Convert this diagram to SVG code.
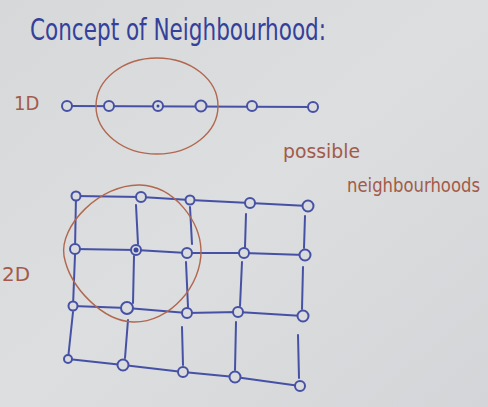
<svg xmlns="http://www.w3.org/2000/svg" width="488" height="407" viewBox="0 0 488 407">
<defs>
<linearGradient id="bg" x1="0" y1="0" x2="1" y2="1">
<stop offset="0" stop-color="#d6d8da"/>
<stop offset="0.5" stop-color="#dcdedf"/>
<stop offset="1" stop-color="#d3d5d8"/>
</linearGradient>
</defs>
<style>
.ln{stroke:#4651a6;stroke-width:2;fill:none;stroke-linecap:round}
.nd{stroke:#4651a6;stroke-width:2;fill:#d9dbdd}
.dot{fill:#3a46a0}
.red{stroke:#b2674f;stroke-width:1.4;fill:none}
.tb{font-family:"DejaVu Sans Condensed","Liberation Sans",sans-serif;fill:#34409a;font-weight:300}
.tr{font-family:"DejaVu Sans Condensed","Liberation Sans",sans-serif;fill:#a35a4a;font-weight:300}
</style>
<rect width="488" height="407" fill="url(#bg)"/>
<g id="title"><text class="tb" x="30" y="40" font-size="30" textLength="296" lengthAdjust="spacingAndGlyphs">Concept of Neighbourhood:</text></g>
<g id="label-1d"><text class="tr" x="14" y="110" font-size="20">1D</text></g>
<g id="label-2d"><text class="tr" x="2" y="281" font-size="20" textLength="28" lengthAdjust="spacingAndGlyphs">2D</text></g>
<g id="label-possible"><text class="tr" x="283" y="158" font-size="19" textLength="77" lengthAdjust="spacingAndGlyphs">possible</text>
<text class="tr" x="347" y="192" font-size="19" textLength="133" lengthAdjust="spacingAndGlyphs">neighbourhoods</text></g>
<g id="connectors">
<path class="ln" d="M67 106 L314 107"/>
<path class="ln" d="M76 196 L141 197 L190 200 L250 203 L308 206"/>
<path class="ln" d="M75 249 L136 250 L187 253 L244 253 L305 255"/>
<path class="ln" d="M73 306 L127 308 L187 313 L238 312 L303 316"/>
<path class="ln" d="M68 359 L123 365 L183 372 L235 377 L300 386"/>
<path class="ln" d="M76 196 L75 249 M75 255 L73 306 M73 312 L68 359"/>
<path class="ln" d="M136 205 L138 244 M134 256 L133 303 M128 320 L125 358"/>
<path class="ln" d="M190 207 L192 244 M186 262 L188 307 M182 327 L183 365"/>
<path class="ln" d="M246 214 L245 247 M242 262 L240 306 M236 322 L235 370"/>
<path class="ln" d="M305 216 L304 248 M303 267 L302 309 M298 335 L299 378"/>
</g>
<g id="ring-1d"><ellipse class="red" cx="157" cy="106" rx="61" ry="48"/></g>
<g id="ring-2d"><path class="red" d="M140 185 C175 186 200 222 201 250 C202 285 170 323 133 322 C103 321 70 288 64 256 C59 226 100 184 140 185 Z"/></g>
<g id="nodes-1d">
<circle class="nd" cx="67" cy="106" r="5"/>
<circle class="nd" cx="109" cy="106" r="5"/>
<circle class="nd" cx="158" cy="106" r="5"/><circle class="dot" cx="158" cy="106" r="1.5"/>
<circle class="nd" cx="201" cy="106" r="5.5"/>
<circle class="nd" cx="252" cy="106" r="5"/>
<circle class="nd" cx="313" cy="107" r="5"/>
</g>
<g id="nodes-2d">
<circle class="nd" cx="76" cy="196" r="4.5"/>
<circle class="nd" cx="141" cy="197" r="5"/>
<circle class="nd" cx="190" cy="200" r="4.5"/>
<circle class="nd" cx="250" cy="203" r="5"/>
<circle class="nd" cx="308" cy="206" r="5.5"/>
<circle class="nd" cx="75" cy="249" r="5"/>
<circle class="nd" cx="136" cy="250" r="5"/><circle class="dot" cx="136" cy="250" r="2.5"/>
<circle class="nd" cx="187" cy="253" r="5"/>
<circle class="nd" cx="244" cy="253" r="5"/>
<circle class="nd" cx="305" cy="255" r="5.5"/>
<circle class="nd" cx="73" cy="306" r="4.5"/>
<circle class="nd" cx="127" cy="308" r="6"/>
<circle class="nd" cx="187" cy="313" r="5"/>
<circle class="nd" cx="238" cy="312" r="5"/>
<circle class="nd" cx="303" cy="316" r="5.5"/>
<circle class="nd" cx="68" cy="359" r="4"/>
<circle class="nd" cx="123" cy="365" r="5.5"/>
<circle class="nd" cx="183" cy="372" r="5"/>
<circle class="nd" cx="235" cy="377" r="5.5"/>
<circle class="nd" cx="300" cy="386" r="5"/>
</g>
</svg>
